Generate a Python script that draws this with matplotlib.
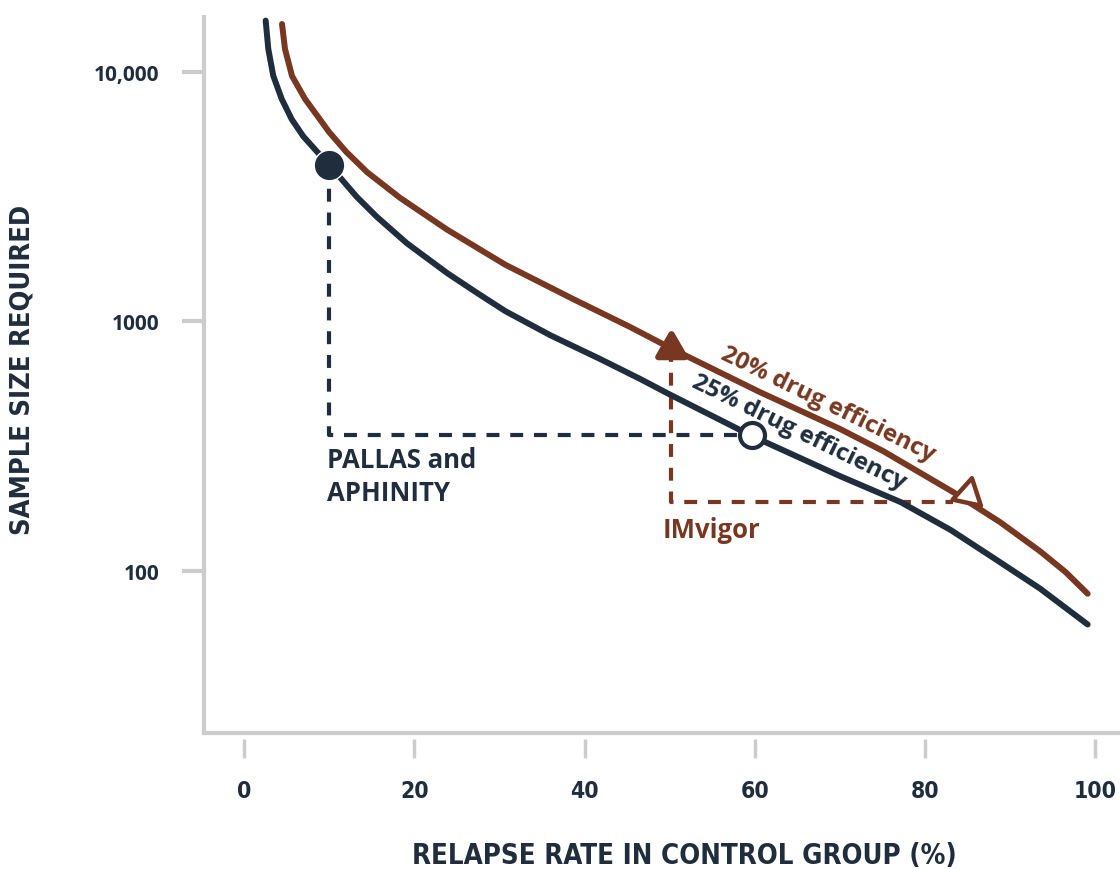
import numpy as np
import matplotlib
matplotlib.use("Agg")
import matplotlib.pyplot as plt
from matplotlib.markers import MarkerStyle
from matplotlib.ticker import FixedLocator, NullLocator

# curve readings (relapse rate %, sample size)
rate_25 = [2.55, 2.86, 3.44, 4.43, 5.61, 6.97, 8.54, 10, 11.08, 13.24, 15.59, 19.12,
           23.9, 27.4, 30.7, 36.0, 41.8, 46.5, 50, 59.7, 70, 77.1, 83, 88, 93.5, 99.1]
size_25 = [16070, 12360, 9660, 7800, 6460, 5520, 4810, 4240, 3850, 3160, 2630, 2060,
           1560, 1300, 1100, 880, 708, 589, 510, 347, 240, 189, 146, 113, 85, 61]

rate_20 = [4.47, 4.82, 5.64, 7.17, 9.99, 12.0, 14.45, 18.33, 23.85, 30.67, 38.66,
           45.36, 50.3, 60.6, 70, 75.1, 83.3, 88.8, 93.5, 96.5, 99.1]
size_20 = [15570, 12360, 9640, 7800, 5750, 4790, 3970, 3130, 2335, 1690, 1230,
           950, 776, 521, 371, 302, 207, 157, 120, 99, 81]

# trial markers
pallas_x, pallas_y = 10, 4240
pallas_end_x, pallas_end_y = 59.7, 350
imvigor_x, imvigor_y = 50.2, 776
imvigor_end_x, imvigor_end_y = 85.1, 204
imvigor_floor = 189

xticks = [0, 20, 40, 60, 80, 100]
yticks = [100, 1000, 10000]
ytick_labels = ["100", "1000", "10,000"]

NAVY = "#1f2d3d"
BROWN = "#783720"
GRAY = "#cccccc"
BOLD = "Open Sans"
COND = "DejaVu Sans"

fig = plt.figure(figsize=(11.2, 8.7), dpi=100)
ax = fig.add_axes([0.1821, 0.1563, 0.8179, 0.823])
ax.set_yscale("log")
ax.set_xlim(-4.7, 102.9)
ax.set_ylim(22.4, 16610)

# curves
ax.plot(rate_20, size_20, color=BROWN, lw=4.3, solid_capstyle="round",
        solid_joinstyle="round", zorder=3)
ax.plot(rate_25, size_25, color=NAVY, lw=4.3, solid_capstyle="round",
        solid_joinstyle="round", zorder=3)

# dashed guides
dash = (0, (3.1, 2.6))
ax.plot([pallas_x, pallas_x, pallas_end_x], [pallas_y, pallas_end_y, pallas_end_y],
        color=NAVY, lw=3, linestyle=dash, zorder=2)
ax.plot([imvigor_x, imvigor_x, imvigor_end_x - 1.8], [imvigor_y, imvigor_floor, imvigor_floor],
        color=BROWN, lw=3, linestyle=dash, zorder=2)

# markers
ax.plot(pallas_x, pallas_y, "o", ms=22, color=NAVY, mec="white", mew=1, zorder=5)
ax.plot(pallas_end_x, pallas_end_y, "o", ms=18, mfc="white", mec=NAVY, mew=3, zorder=5)
ax.plot(imvigor_x, imvigor_y, marker=MarkerStyle((3, 0, 0), joinstyle="round"), ms=22,
        color=BROWN, mec=BROWN, mew=4.5, zorder=5)
ax.plot(imvigor_end_x, imvigor_end_y, marker=MarkerStyle((3, 0, -12), joinstyle="round"),
        ms=24, mfc="white", mec=BROWN, mew=3.2, zorder=5)

# annotations
ax.text(9.75, 316, "PALLAS and\nAPHINITY", color=NAVY, fontsize=18.5, fontweight="bold",
        family=BOLD, va="top", ha="left", linespacing=1.28)
ax.text(49.2, 166, "IMvigor", color=BROWN, fontsize=18.5, fontweight="bold",
        family=BOLD, va="top", ha="left")
ax.text(68.6, 470, "20% drug efficiency", color=BROWN, fontsize=17.5, fontweight="bold",
        family=BOLD, rotation=-26, rotation_mode="anchor", ha="center", va="center")
ax.text(65.2, 362, "25% drug efficiency", color=NAVY, fontsize=17.5, fontweight="bold",
        family=BOLD, rotation=-26, rotation_mode="anchor", ha="center", va="center")

# axes styling
for s in ["top", "right"]:
    ax.spines[s].set_visible(False)
ax.spines["left"].set_color(GRAY)
ax.spines["left"].set_linewidth(3)
ax.spines["bottom"].set_visible(False)
ax.spines["bottom"].set_position(("outward", 4))
ax.plot([-0.002, 1], [0, 0], transform=ax.transAxes, color=GRAY, lw=3,
        clip_on=False, solid_capstyle="butt", zorder=1)

ax.xaxis.set_major_locator(FixedLocator(xticks))
ax.yaxis.set_major_locator(FixedLocator(yticks))
ax.yaxis.set_minor_locator(NullLocator())
ax.set_yticklabels(ytick_labels)
ax.tick_params(axis="x", length=14, width=2.5, color=GRAY, pad=15, labelsize=16.5,
               labelcolor=NAVY)
ax.tick_params(axis="y", length=16, width=3, color=GRAY, pad=16, labelsize=15,
               labelcolor=NAVY)
for lab in ax.get_xticklabels():
    lab.set_family(COND)
    lab.set_fontstretch("condensed")
    lab.set_fontweight("bold")
for lab in ax.get_yticklabels():
    lab.set_family(BOLD)
    lab.set_fontweight("bold")

fig.text(684 / 1120, 1 - 864 / 870, "RELAPSE RATE IN CONTROL GROUP (%)", fontsize=19.8,
         fontweight="bold", family=COND, fontstretch="condensed", color=NAVY,
         ha="center", va="baseline")
fig.text(22.5 / 1120, 1 - 370 / 870, "SAMPLE SIZE REQUIRED", fontsize=19.5, rotation=90,
         fontweight="bold", family=COND, fontstretch="condensed", color=NAVY,
         ha="center", va="center")

plt.savefig("out.png", dpi=100)
